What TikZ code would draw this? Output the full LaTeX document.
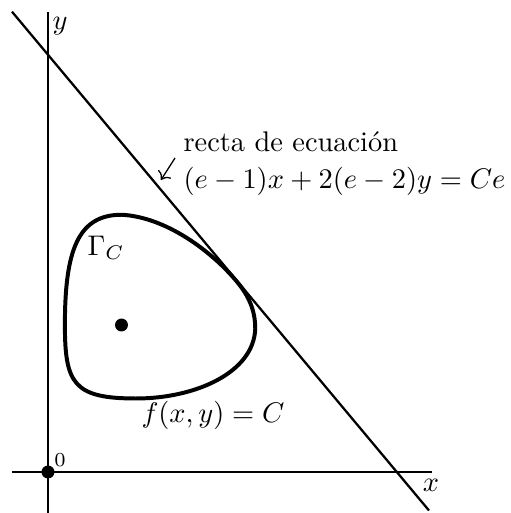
\documentclass[tikz,border=0pt]{standalone}
\usepackage{amsmath}
\usepackage{tikz}
\usetikzlibrary{arrows.meta, positioning}
\tikzset{
  axis/.style={line width=0.95pt, color=black},
  recta/.style={line width=0.8pt, color=black},
  curva/.style={line width=1.4pt, color=black},
  punto/.style={circle, fill=black, inner sep=0pt, minimum size=0.16cm},
  flecha/.style={->, line width=0.45pt},
  lbl/.style={inner sep=0pt}
}

\begin{document}
\begin{tikzpicture}[x=0.91cm, y=0.91cm]
  \useasboundingbox (-0.653,-0.558) rectangle (6.299,6.422);

  % Ejes
  \draw[axis] (-0.49,0) -- (5.224,0);
  \draw[axis] (0,-0.558) -- (0,6.259);
  \node[lbl] (ejex) at (5.21,-0.177) {$x$};
  \node[lbl] (ejey) at (0.163,6.068) {$y$};
  \node[punto] (O) at (0,0) {};
  \node[lbl, font=\scriptsize] (cero) at (0.163,0.163) {$0$};

  % Recta tangente
  \draw[recta] (-0.49,6.263) -- (5.184,-0.524);
  \node[lbl, align=left, anchor=west] (ecuacion) at (1.837,4.19)
    {recta de ecuaci\'on\\[1pt] $(e-1)x+2(e-2)y=Ce$};
  \coordinate (flechaA) at (1.728,4.272);
  \coordinate (flechaB) at (1.537,3.973);
  \draw[flecha] (flechaA) -- (flechaB);

  % Curva de nivel
  \draw[curva] (1.0,3.5) .. controls (1.6,3.47) and (2.22,3.01) .. (2.57,2.59)
    .. controls (2.73,2.40) and (2.82,2.2) .. (2.82,1.95)
    .. controls (2.8,1.35) and (2.0,1.0) .. (1.2,1.0)
    .. controls (0.35,1.0) and (0.23,1.2) .. (0.23,2.0)
    .. controls (0.23,3.0) and (0.4,3.5) .. cycle;
  \node[punto] (P) at (1,2) {};
  \node[lbl] (gamma) at (0.79,3.05) {$\Gamma_C$};
  \node[lbl] (nivel) at (2.245,0.776) {$f(x,y)=C$};
\end{tikzpicture}
\end{document}
